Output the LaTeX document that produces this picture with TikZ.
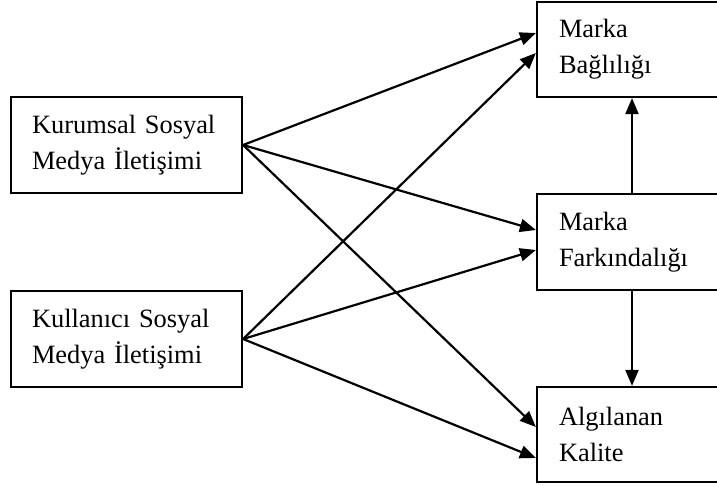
\documentclass[tikz,border=0pt]{standalone}
\usepackage{fontspec}
\setmainfont{Liberation Serif}
\usetikzlibrary{arrows.meta}
\begin{document}
\begin{tikzpicture}[x=1pt,y=-1pt,
  box/.style={draw, line width=2.2pt, rectangle, align=left, inner ysep=0pt,
    font=\fontsize{26.4}{36}\selectfont},
  leftbox/.style={box, minimum width=231pt, minimum height=96pt, inner xsep=21pt, text width=189pt},
  rightbox/.style={box, minimum width=190pt, minimum height=95pt, inner xsep=22pt, text width=146pt},
  arr/.style={line width=2.2pt, -{Triangle[length=16pt,width=13pt]}}]
\useasboundingbox (0,0) rectangle (717,486);
\node[leftbox] (ks) at (126.5,145) {Kurumsal Sosyal\\Medya İletişimi};
\node[leftbox] (ku) at (126.5,339) {Kullanıcı Sosyal\\Medya İletişimi};
\node[rightbox] (mb) at (632,49.5) {Marka\\Bağlılığı};
\node[rightbox, minimum height=96pt] (mf) at (632,242) {Marka\\Farkındalığı};
\node[rightbox] (ak) at (632,434.5) {Algılanan\\Kalite};
\draw[arr] (ks.east) -- ([yshift=16.5pt]mb.west);
\draw[arr] (ks.east) -- ([yshift=12pt]mf.west);
\draw[arr] (ks.east) -- ([yshift=7.5pt]ak.west);
\draw[arr] (ku.east) -- ([yshift=-3.5pt]mb.west);
\draw[arr] (ku.east) -- ([yshift=-8pt]mf.west);
\draw[arr] (ku.east) -- ([yshift=-23.5pt]ak.west);
\draw[arr] (mf.north) -- (mb.south);
\draw[arr] (mf.south) -- (ak.north);
\end{tikzpicture}
\end{document}
